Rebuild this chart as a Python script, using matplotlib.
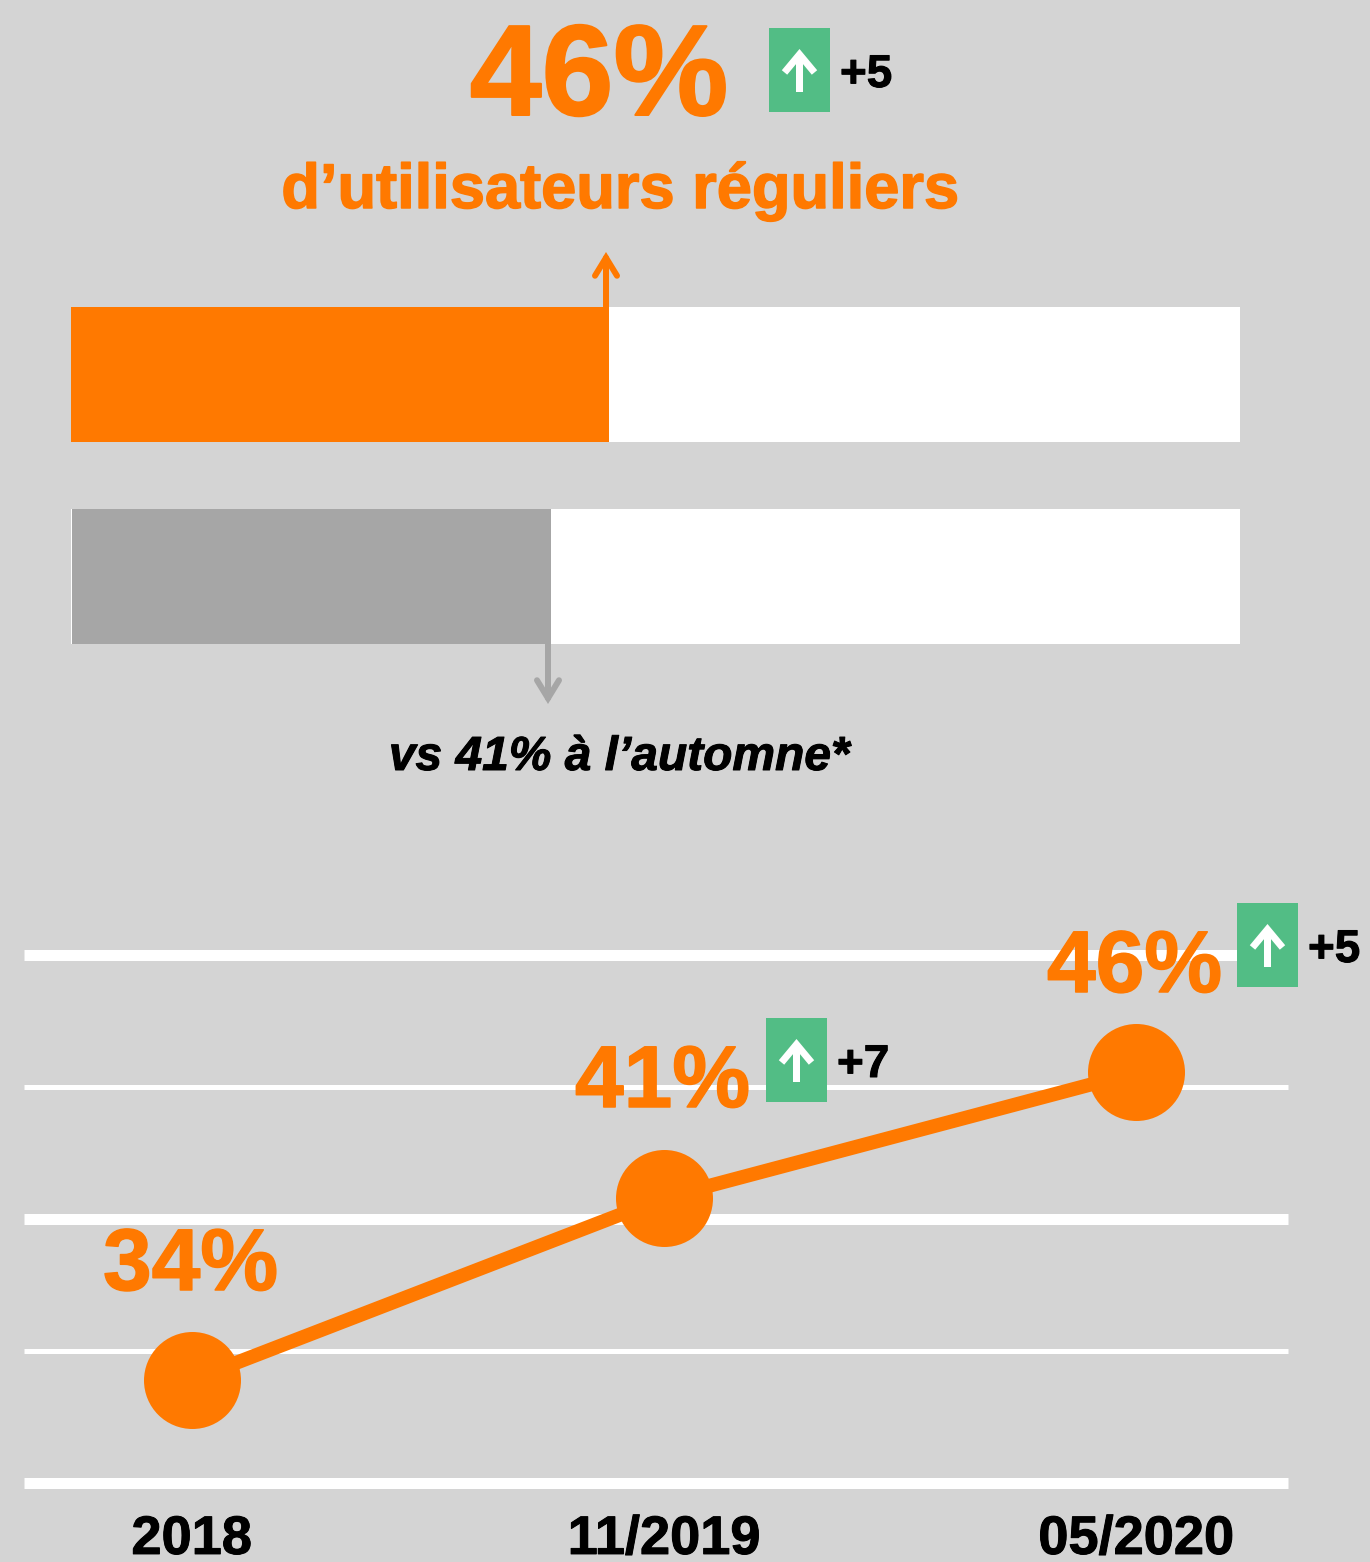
import matplotlib
matplotlib.use("Agg")
import matplotlib.pyplot as plt
import matplotlib.patheffects as pe
from matplotlib.patches import Rectangle

W, H = 1370, 1562
BG, ORANGE, GREY, GREEN = "#D4D4D4", "#FF7900", "#A6A6A6", "#52BD85"
plt.rcParams["font.family"] = ["Liberation Sans", "DejaVu Sans"]

# data
bar_values = [46, 41]
bar_colors = [ORANGE, GREY]
bar_max = 100
line_categories = ["2018", "11/2019", "05/2020"]
line_values = [33.9, 40.8, 45.55]
line_labels = ["34%", "41%", "46%"]
grid_values = [30, 35, 40, 45, 50]
grid_widths = [11, 5, 11, 5, 11]
deltas = ["+7", "+5"]

fig = plt.figure(figsize=(W / 100, H / 100), dpi=100, facecolor=BG)
px = 72 / 100  # points per pixel


def axes_px(x0, y0, x1, y1, **kw):
    return fig.add_axes([x0 / W, 1 - y1 / H, (x1 - x0) / W, (y1 - y0) / H], **kw)


def heavy(t, color, w):
    t.set_path_effects([pe.withStroke(linewidth=w * px, foreground=color)])


# bars
axb = axes_px(71, 307, 1240, 644, facecolor="none")
axb.set_xlim(0, bar_max)
axb.set_ylim(1.334, -0.334)
axb.axis("off")
axb.barh([0, 1], [bar_max] * 2, height=0.668, color="white", linewidth=0)
axb.barh(0, bar_values[0], height=0.668, color=bar_colors[0], linewidth=0)
axb.barh(1, bar_values[1] - 0.09 + 0.06, left=0.09, height=0.668, color=bar_colors[1], linewidth=0)

# line chart
axl = axes_px(24, 955, 1288, 1483, facecolor="none")
axl.set_xlim(-0.3548, 2.3217)
axl.set_ylim(grid_values[0], grid_values[-1])
for s in axl.spines.values():
    s.set_visible(False)
axl.set_yticks([])
axl.set_xticks(range(len(line_categories)), line_categories)
axl.tick_params(axis="x", length=0, pad=23, labelsize=39)
for t in axl.get_xticklabels():
    t.set_fontweight("bold")
    t.set_color("black")
    heavy(t, "black", 1)
for v, w in zip(grid_values, grid_widths):
    axl.axhline(v, color="white", lw=w * px, solid_capstyle="butt", clip_on=False, zorder=1)
axl.plot(range(3), line_values, color=ORANGE, lw=14 * px, marker="o", ms=97 * px,
         mew=0, clip_on=False, zorder=3)

# overlay for annotations, in pixel coordinates
ov = fig.add_axes([0, 0, 1, 1], facecolor="none")
ov.set_xlim(0, W)
ov.set_ylim(H, 0)
ov.axis("off")


def label(x, y, s, size, color="black", ha="center", style="normal", w=1.0):
    t = ov.text(x, y, s, fontsize=size, color=color, ha=ha, va="baseline",
                fontweight="bold", fontstyle=style)
    heavy(t, color, w)


def arrow(x0, y0, x1, y1, color, lw, hl, hw, cap):
    ov.annotate("", xy=(x1, y1), xytext=(x0, y0),
                arrowprops=dict(arrowstyle=f"->,head_length={hl * px},head_width={hw * px}",
                                mutation_scale=1, color=color, lw=lw * px, shrinkA=0, shrinkB=0,
                                capstyle=cap, joinstyle="miter"))


def badge(x, y, s):
    ov.add_patch(Rectangle((x, y), 61, 84, color=GREEN, lw=0))
    arrow(x + 30.5, y + 64, x + 30.5, y + 21, "white", 7, 18, 15, "butt")
    label(x + 71, y + 59, s, 33, ha="left")


label(599, 115, f"{bar_values[0]}%", 93, ORANGE, w=2)
label(620, 208, "d’utilisateurs réguliers", 45.5, ORANGE, w=1.5)
label(619, 770, f"vs {bar_values[1]}% à l’automne*", 34.5, style="italic")
arrow(606, 307, 606, 252, ORANGE, 6, 18, 11, "round")
arrow(548, 644, 548, 704, GREY, 6, 18, 11, "round")
badge(769, 28, "+5")

label(190.5, 1290, line_labels[0], 63, ORANGE, w=1.5)
label(662.5, 1107, line_labels[1], 63, ORANGE, w=1.5)
label(1134.5, 992, line_labels[2], 63, ORANGE, w=1.5)
badge(766, 1018, deltas[0])
badge(1237, 903, deltas[1])

fig.savefig("out.png", dpi=100, facecolor=BG)
